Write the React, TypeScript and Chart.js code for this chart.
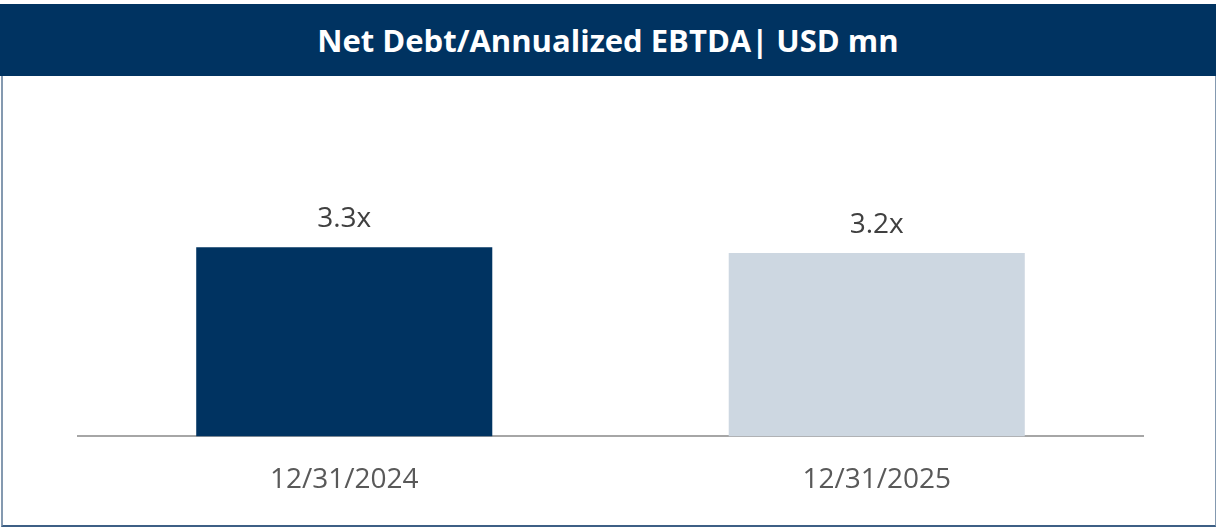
import React, { useEffect, useRef } from "react";
import { Chart, registerables } from "chart.js";

Chart.register(...registerables);

const categories = ["12/31/2024", "12/31/2025"];
const ratioValues = [3.3, 3.2];
const valueLabels = ["3.3x", "3.2x"];
const barColors = ["#003361", "#cdd7e1"];
const titleText = "Net Debt/Annualized EBTDA| USD mn";

const valueLabelPlugin = {
  id: "valueLabels",
  afterDatasetsDraw(chart: any) {
    const ctx = chart.ctx;
    const meta = chart.getDatasetMeta(0);
    ctx.save();
    ctx.font = "28px 'Open Sans'";
    ctx.fillStyle = "#404040";
    ctx.textAlign = "center";
    ctx.textBaseline = "alphabetic";
    meta.data.forEach((bar: any, i: number) => {
      ctx.fillText(valueLabels[i], bar.x, bar.y - 20);
    });
    ctx.restore();
  },
};

export default function App() {
  const canvasRef = useRef<HTMLCanvasElement | null>(null);

  useEffect(() => {
    document.body.style.margin = "0";
    const canvas = canvasRef.current;
    if (!canvas) return;
    const chart = new Chart(canvas, {
      type: "bar",
      data: {
        labels: categories,
        datasets: [
          {
            data: ratioValues,
            backgroundColor: barColors,
            borderWidth: 0,
            barPercentage: 0.556,
            categoryPercentage: 1,
          },
        ],
      },
      options: {
        animation: false,
        responsive: false,
        maintainAspectRatio: false,
        layout: { padding: { left: 78, right: 73, top: 207, bottom: 11 } },
        plugins: {
          legend: { display: false },
          title: { display: false },
          tooltip: { enabled: false },
        },
        scales: {
          x: {
            grid: { display: false },
            border: { display: true, color: "#a6a6a6", width: 2 },
            ticks: {
              color: "#595959",
              font: { family: "'Open Sans'", size: 28 },
              padding: 19,
            },
          },
          y: {
            display: false,
            min: 0,
            max: 4,
          },
        },
      },
      plugins: [valueLabelPlugin],
    });
    return () => chart.destroy();
  }, []);

  return (
    <div
      style={{
        position: "relative",
        width: 1216,
        height: 527,
        background: "#ffffff",
        overflow: "hidden",
      }}
    >
      <div
        style={{
          position: "absolute",
          left: 1,
          top: 76,
          width: 1212,
          height: 449,
          borderLeft: "2px solid #8499b0",
          borderRight: "1px solid #8499b0",
          borderBottom: "2px solid #3d5f85",
        }}
      />
      <div
        style={{
          position: "absolute",
          left: 0,
          top: 4,
          width: 1216,
          height: 72,
          background: "#003361",
          color: "#ffffff",
          display: "flex",
          alignItems: "center",
          justifyContent: "center",
          fontFamily: "'Open Sans'",
          fontWeight: 700,
          fontSize: 31,
        }}
      >
        {titleText}
      </div>
      <canvas
        ref={canvasRef}
        width={1216}
        height={527}
        style={{ position: "absolute", left: 0, top: 0, width: 1216, height: 527 }}
      />
    </div>
  );
}
